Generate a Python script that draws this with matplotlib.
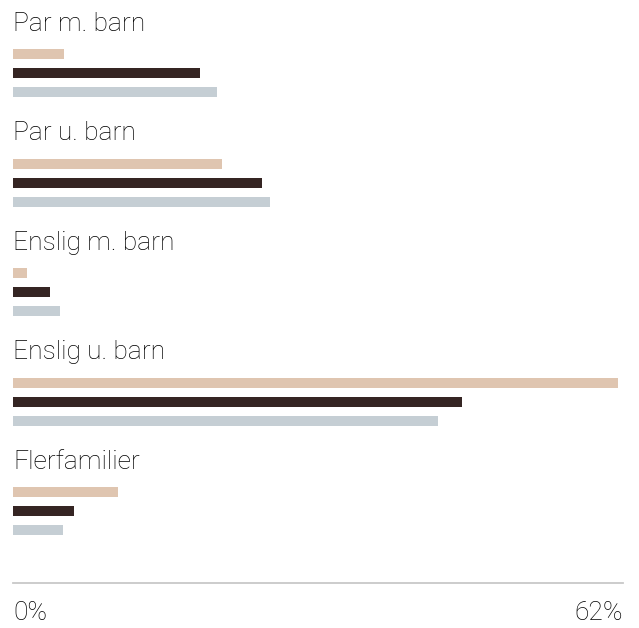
import matplotlib.pyplot as plt
import numpy as np

groups = ["Par m. barn", "Par u. barn", "Enslig m. barn", "Enslig u. barn", "Flerfamilier"]
series_a = [5.2, 21.2, 1.4, 61.5, 10.7]   # tan
series_b = [19.0, 25.3, 3.8, 45.6, 6.2]   # dark brown
series_c = [20.7, 26.1, 4.8, 43.2, 5.1]   # grey-blue
xmax = 62
tick_labels = ["0%", "62%"]

colors = ["#dfc5b0", "#352523", "#c5ced4"]
txt = dict(fontsize=19, family="Roboto", fontweight="light", color="#000000", va="center")

fig = plt.figure(figsize=(6.39, 6.28), dpi=100)
# axes spans bar area horizontally; y in pixel units from top
ax = fig.add_axes([13 / 639, 0, 610 / 639, 1])
ax.set_xlim(0, xmax)
ax.set_ylim(628, 0)
ax.axis("off")

group_top = 54
group_step = 109.5
bar_step = 19
bar_h = 10

for i, name in enumerate(groups):
    y0 = group_top + i * group_step
    for j, vals in enumerate([series_a, series_b, series_c]):
        ax.barh(y0 + j * bar_step, vals[i], height=bar_h, color=colors[j], left=0)
    ax.text(0, y0 - 30, name, ha="left", **txt)

ax.plot([0, xmax], [583, 583], color="#c8c8c8", lw=1.3, clip_on=False)
ax.text(0, 613, tick_labels[0], ha="left", **txt)
ax.text(xmax, 613, tick_labels[1], ha="right", **txt)

fig.savefig("out.png", dpi=100, facecolor="white")
